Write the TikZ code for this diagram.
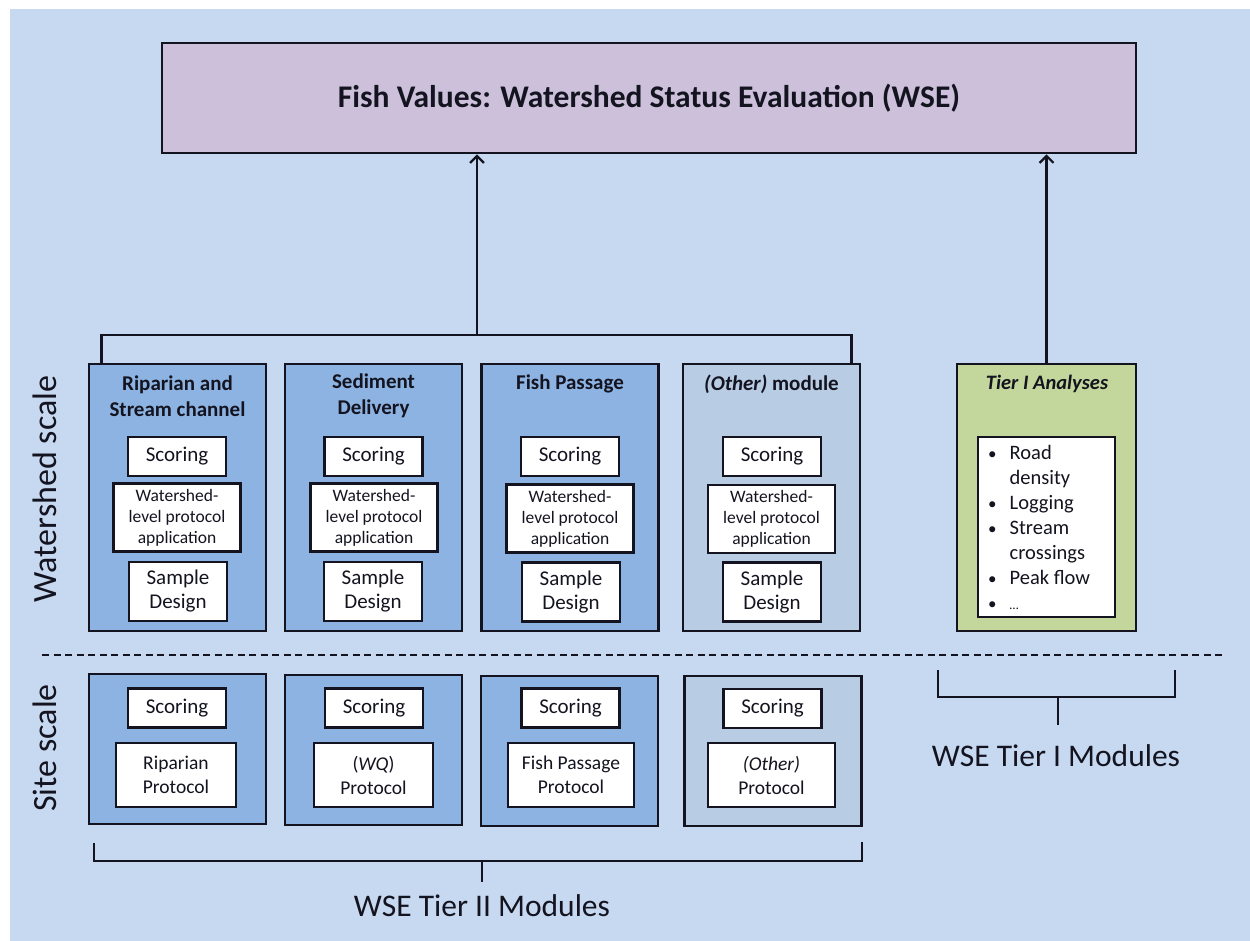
\documentclass[tikz,border=0pt]{standalone}
\usepackage{fontspec}
\setmainfont{Carlito}
\usetikzlibrary{arrows.meta,calc}
\definecolor{bgblue}{HTML}{C6D9F1}
\definecolor{topfill}{HTML}{CCC0DA}
\definecolor{modfill}{HTML}{8DB3E2}
\definecolor{otherfill}{HTML}{B8CCE4}
\definecolor{greenfill}{HTML}{C3D69B}
\definecolor{ink}{HTML}{141420}
\begin{document}
\begin{tikzpicture}[x=1pt,y=-1pt,
  frame/.style={draw=ink,line width=2.8pt,inner sep=0pt},
  outer/.style={frame,fill=modfill,minimum width=177pt,minimum height=267pt},
  otherouter/.style={outer,fill=otherfill},
  siteouter/.style={frame,fill=modfill,minimum width=177pt,minimum height=150pt},
  othersite/.style={siteouter,fill=otherfill},
  scorebox/.style={frame,fill=white,minimum width=98pt,minimum height=39pt,font=\fontsize{21}{24}\selectfont},
  levelbox/.style={frame,fill=white,minimum width=127pt,minimum height=68pt,align=center,font=\fontsize{17.5}{21}\selectfont},
  samplebox/.style={frame,fill=white,minimum width=98pt,minimum height=59pt,align=center,font=\fontsize{21}{24}\selectfont},
  protbox/.style={frame,fill=white,minimum height=64pt,align=center,font=\fontsize{19.5}{24}\selectfont},
  modtitle/.style={align=center,inner sep=0pt,font=\fontsize{21}{26}\selectfont\bfseries},
  sidelabel/.style={rotate=90,inner sep=0pt,font=\fontsize{34}{38}\selectfont},
  brk/.style={draw=ink,line width=2.6pt},
  arr/.style={draw=ink,line width=2.4pt,-{Straight Barb[length=7pt,width=14pt,line width=2.2pt]}},
  tiertext/.style={inner sep=0pt,font=\fontsize{31.5}{34}\selectfont},
  text=ink]
\useasboundingbox (0,0) rectangle (1250,941);
\fill[white] (0,0) rectangle (1250,941);
\fill[bgblue] (10,9) rectangle (1250,941);

% top box
\node[frame,fill=topfill,minimum width=974pt,minimum height=110pt,font=\fontsize{31.5}{34}\selectfont\bfseries] (top) at (649,98) {Fish Values: Watershed Status Evaluation (WSE)};

% watershed-scale modules
\node[outer] (m1) at (177.5,497.5) {};
\node[outer] (m2) at (373.5,497.5) {};
\node[outer] (m3) at (570,497.5) {};
\node[otherouter] (m4) at (771.5,497.5) {};

\node[modtitle] (t1) at (177.5,396) {Riparian and\\Stream channel};
\node[modtitle] (t2) at (373.5,396) {Sediment\\Delivery};
\node[modtitle] (t3) at (570,384) {Fish Passage};
\node[modtitle] (t4) at (771.5,384) {\textit{(Other)} module};

\node[scorebox] (s1) at (177,456.5) {Scoring};
\node[scorebox] (s2) at (373.5,456.5) {Scoring};
\node[scorebox] (s3) at (570,456.5) {Scoring};
\node[scorebox] (s4) at (772,456.5) {Scoring};

\node[levelbox] (l1) at (177,517.5) {Watershed-\\level protocol\\application};
\node[levelbox] (l2) at (374,517.5) {Watershed-\\level protocol\\application};
\node[levelbox] (l3) at (570,518.5) {Watershed-\\level protocol\\application};
\node[levelbox] (l4) at (771.5,519) {Watershed-\\level protocol\\application};

\node[samplebox] (d1) at (178,591.5) {Sample\\Design};
\node[samplebox] (d2) at (373,591.5) {Sample\\Design};
\node[samplebox] (d3) at (571,592) {Sample\\Design};
\node[samplebox] (d4) at (772,592) {Sample\\Design};

% Tier I analyses
\node[frame,fill=greenfill,minimum width=179pt,minimum height=267pt] (tier1) at (1046.5,497.5) {};
\node[inner sep=0pt,font=\fontsize{20.5}{24}\selectfont\bfseries\itshape] (tier1t) at (1047,384) {Tier I Analyses};
\node[frame,fill=white,minimum width=137pt,minimum height=180pt] (list) at (1046.5,527) {};
\node[anchor=north west,inner sep=0pt,font=\fontsize{20.5}{25}\selectfont] (listtext) at (988,442)
  {\begin{tabular}{@{}l@{\hspace{13pt}}l@{}}
   {\fontsize{17}{25}\selectfont\textbullet} & Road\\
               & density\\
   {\fontsize{17}{25}\selectfont\textbullet} & Logging\\
   {\fontsize{17}{25}\selectfont\textbullet} & Stream\\
               & crossings\\
   {\fontsize{17}{25}\selectfont\textbullet} & Peak flow\\
   {\fontsize{17}{25}\selectfont\textbullet} & \fontsize{13}{25}\selectfont\dots
   \end{tabular}};

% site-scale modules
\node[siteouter] (p1) at (177.5,749) {};
\node[siteouter] (p2) at (373.5,750) {};
\node[siteouter] (p3) at (569.5,751) {};
\node[othersite] (p4) at (773,751) {};

\node[scorebox] (ss1) at (177,708) {Scoring};
\node[scorebox] (ss2) at (374,708) {Scoring};
\node[scorebox] (ss3) at (570.5,708) {Scoring};
\node[scorebox] (ss4) at (772.5,708.5) {Scoring};

\node[protbox,minimum width=120pt] (r1) at (176,775) {Riparian\\Protocol};
\node[protbox,minimum width=119pt] (r2) at (373.5,775) {(\textit{WQ})\\Protocol};
\node[protbox,minimum width=126pt] (r3) at (571,775) {Fish Passage\\Protocol};
\node[protbox,minimum width=127pt] (r4) at (771.5,775) {\textit{(Other)}\\Protocol};

% scale separator and side labels
\draw[ink,line width=1.8pt,dash pattern=on 7pt off 4.5pt] (42,655) -- (1225,655);
\node[sidelabel] (wlab) at (45,489) {Watershed scale};
\node[sidelabel] (slab) at (45,748) {Site scale};

% connectors to the top box
\coordinate (j) at (477,335);
\draw[brk] ($(m1.north west)+(14,0)$) |- (j) -| ($(m4.north east)+(-10,0)$);
\draw[arr] (j) -- (j |- top.south);
\draw[arr] (tier1.north) -- (tier1.north |- top.south);

% Tier II bracket
\coordinate (b2) at (482,861);
\draw[brk] (94,843) |- (b2) -| (862,842);
\draw[brk] (b2) -- (482,882);
\node[tiertext] (tier2lab) at (482,906) {WSE Tier II Modules};

% Tier I bracket
\coordinate (b1) at (1058,697);
\draw[brk] (938,670) |- (b1) -| (1175,670);
\draw[brk] (b1) -- (1058,725);
\node[tiertext] (tier1lab) at (1056,756) {WSE Tier I Modules};
\end{tikzpicture}
\end{document}
